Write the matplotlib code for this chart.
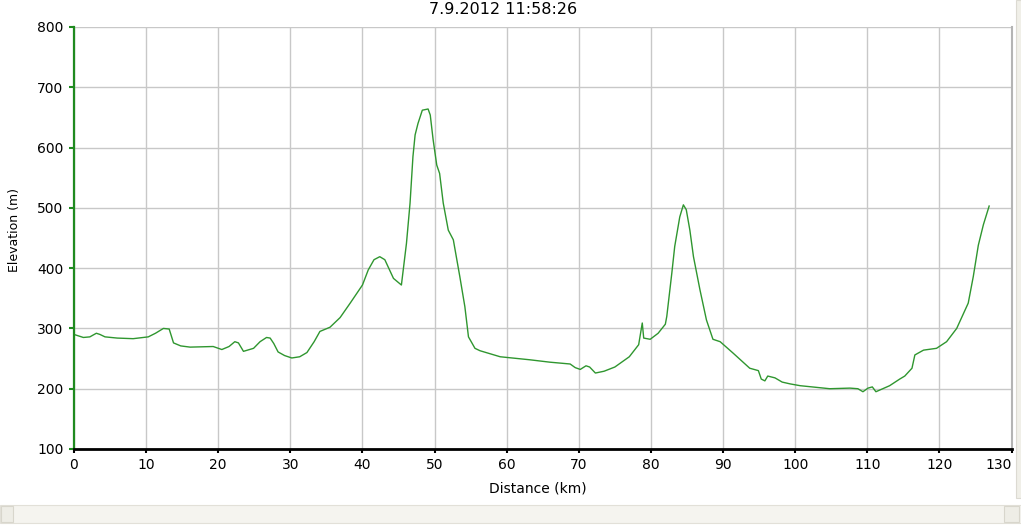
import matplotlib.pyplot as plt
from matplotlib.patches import Rectangle

# elevation profile
dist_km = [0, 1.3, 2.2, 3.1, 3.6, 4.3, 6, 8.2, 10.3, 11.3, 12.4, 13.2, 13.8, 14.8, 16.1,
           19.3, 20.5, 21.5, 22.3, 22.8, 23.5, 24.9, 25.8, 26.7, 27.2, 27.7, 28.3, 29.2,
           30.2, 31.3, 32.3, 33.3, 34.1, 35.5, 36.9, 38.3, 40.0, 40.8, 41.6, 42.4, 43.1,
           44.3, 45.4, 46.1, 46.6, 47.0, 47.3, 47.7, 48.3, 49.1, 49.4, 49.8, 50.3, 50.7,
           51.2, 51.9, 52.6, 53.5, 54.2, 54.7, 55.6, 56.3, 59.1, 63.2, 66.0, 68.8, 69.5,
           70.2, 71.0, 71.5, 72.3, 73.5, 75.0, 77.0, 78.3, 78.8, 79.0, 79.9, 81.0, 82.0,
           82.2, 82.9, 83.3, 84.0, 84.5, 84.9, 85.4, 85.9, 86.8, 87.7, 88.6, 89.6, 91.4,
           93.7, 94.9, 95.3, 95.8, 96.2, 97.2, 98.2, 99.3, 100.7, 104.8, 107.6, 108.7,
           109.4, 110.1, 110.7, 111.2, 113.1, 114.5, 115.2, 116.2, 116.6, 117.8, 119.6,
           121.0, 122.4, 124.0, 124.7, 125.4, 126.1, 126.9]
elev_m = [290, 285, 286, 292, 290, 286, 284, 283, 286, 292, 300, 299, 276, 271, 269,
          270, 265, 270, 278, 276, 262, 267, 278, 285, 284, 275, 261, 255,
          251, 253, 260, 278, 295, 302, 318, 342, 372, 397, 414, 419, 414,
          383, 372, 441, 508, 585, 621, 640, 662, 664, 654, 613, 571, 557,
          508, 463, 447, 386, 336, 286, 267, 263, 253, 248, 244, 241, 235,
          232, 238, 236, 226, 229, 236, 253, 273, 309, 284, 282, 292, 307,
          320, 392, 436, 485, 505, 497, 463, 419, 364, 314, 282, 278, 259,
          234, 230, 216, 213, 221, 218, 211, 208, 205, 200, 201, 200,
          195, 201, 203, 195, 205, 216, 221, 234, 256, 264, 267,
          278, 300, 342, 386, 438, 472, 503]

x_ticks = list(range(0, 131, 10))
y_ticks = list(range(100, 801, 100))
title = '7.9.2012 11:58:26'

W, H = 1021, 525
fig = plt.figure(figsize=(W / 100, H / 100), dpi=100)
ax = fig.add_axes([74 / W, 1 - 449 / H, 937.5 / W, 422 / H])

ax.plot(dist_km, elev_m, color='#2f962f', lw=1.0, zorder=3)

ax.set_xlim(0, 130)
ax.set_ylim(100, 800)
ax.set_xticks(x_ticks)
ax.set_yticks(y_ticks)
ax.grid(True, color='#c8c8c8', lw=1.0)
ax.set_axisbelow(True)

ax.spines['top'].set_visible(False)
ax.spines['right'].set_color('#b4b4b4')
ax.spines['right'].set_linewidth(1.5)
ax.spines['left'].set_color('#1f8a1f')
ax.spines['left'].set_linewidth(1.6)
ax.spines['bottom'].set_color('black')
ax.spines['bottom'].set_linewidth(2.0)
ax.spines['left'].set_zorder(4)
ax.spines['bottom'].set_zorder(4)

ax.tick_params(axis='y', colors='#1f8a1f', length=3.5, width=1.5, pad=4,
               labelsize=10, labelcolor='black')
ax.tick_params(axis='x', colors='black', length=3, width=1.5, pad=3.5,
               labelsize=10, labelcolor='black')
# last x label sits flush with the right end of the axis
xlabels = ax.get_xticklabels()
xlabels[-1].set_horizontalalignment('right')

ax.set_xlabel('Distance (km)', fontsize=10)
ax.xaxis.set_label_coords(0.495, -0.078)
ax.set_ylabel('Elevation (m)', fontsize=9)
ax.yaxis.set_label_coords(-0.0565, 0.52)

fig.text(503 / W, 1 - 10 / H, title, ha='center', va='center', fontsize=11.5)

# window chrome: scrollbar strip at the bottom, frame at the right
fig.add_artist(Rectangle((0, 2 / H), 1, 18 / H, transform=fig.transFigure,
                         facecolor='#f5f4ef', edgecolor='#e2e0d8', lw=0.8))
fig.add_artist(Rectangle((1 / W, 3 / H), 12 / W, 16 / H, transform=fig.transFigure,
                         facecolor='#eeede6', edgecolor='#d8d6cc', lw=0.8))
fig.add_artist(Rectangle((1004 / W, 3 / H), 15 / W, 16 / H, transform=fig.transFigure,
                         facecolor='#eeede6', edgecolor='#d8d6cc', lw=0.8))
fig.add_artist(Rectangle((1016 / W, 1 - 498 / H), 6 / W, 498 / H, transform=fig.transFigure,
                         facecolor='#f0efe8', edgecolor='#dcdad2', lw=0.8))

plt.savefig('out.png', dpi=100)
plt.close()
